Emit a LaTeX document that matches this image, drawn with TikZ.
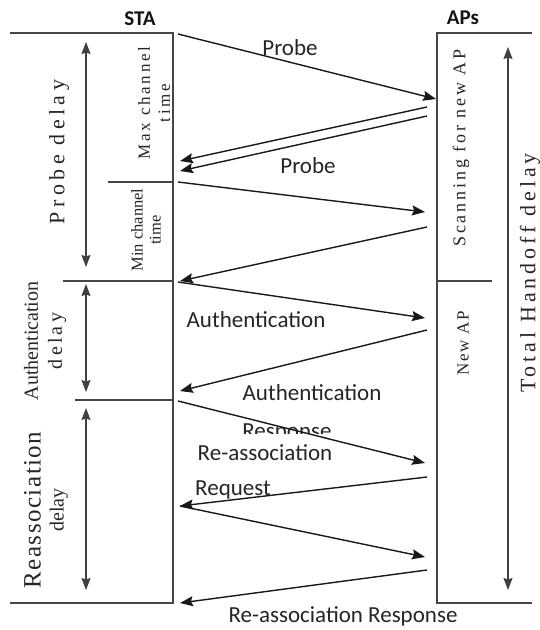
\documentclass[tikz,border=0pt]{standalone}
\usepackage{fontspec}
\setmainfont{Liberation Serif}
\newfontfamily\labfont{Carlito}
\newfontfamily\lsXL[LetterSpace=20]{Liberation Serif}
\newfontfamily\lsT[LetterSpace=18]{Liberation Serif}
\newfontfamily\lsL[LetterSpace=16]{Liberation Serif}
\newfontfamily\lsM[LetterSpace=10]{Liberation Serif}
\newfontfamily\lsS[LetterSpace=6]{Liberation Serif}
\usetikzlibrary{arrows.meta}
\begin{document}
\begin{tikzpicture}[x=1pt,y=-1pt,
  frameline/.style={draw=black!72, line width=1.3pt},
  msg/.style={draw=black!90, line width=1.4pt, -{Stealth[length=13pt,width=10pt,inset=2pt]}},
  delayspan/.style={draw=black!75, line width=1.3pt, {Stealth[length=12pt,width=9pt,inset=1.5pt]}-{Stealth[length=12pt,width=9pt,inset=1.5pt]}},
  lab/.style={font=\labfont\fontsize{23}{27}\selectfont, text=black!85, inner sep=0pt, anchor=base},
  headlbl/.style={font=\labfont\bfseries\fontsize{21}{25}\selectfont, text=black!92, inner sep=0pt},
  vtext/.style={rotate=90, align=center, inner sep=0pt, text=black!85},
]
\useasboundingbox (0,0) rectangle (539,630);
\fill[white] (0,0) rectangle (539,630);

% STA frame
\coordinate (staTL) at (10,33);
\coordinate (staTop) at (173,33);
\coordinate (staBot) at (173,603);
\coordinate (staBL) at (10,603);
\coordinate (minL) at (108,182);
\coordinate (minR) at (173,182);
\coordinate (authL) at (63,281);
\coordinate (authR) at (173,281);
\coordinate (reaL) at (75,400);
\coordinate (reaR) at (173,400);
\draw[frameline] (staTL) -- (staTop) -- (staBot) -- (staBL);
\draw[frameline] (minL) -- (minR);
\draw[frameline] (authL) -- (authR);
\draw[frameline] (reaL) -- (reaR);

% AP frame
\coordinate (apTR) at (532,33);
\coordinate (apTL) at (437,33);
\coordinate (apBL) at (437,603);
\coordinate (apBR) at (532,603);
\coordinate (apMid) at (437,281);
\coordinate (apMidR) at (492,281);
\draw[frameline] (apTR) -- (apTL) -- (apBL) -- (apBR);
\draw[frameline] (apMid) -- (apMidR);

% delay spans
\coordinate (pdTop) at (86,42);
\coordinate (pdBot) at (86,267);
\coordinate (adTop) at (86,284);
\coordinate (adBot) at (86,392);
\coordinate (rdTop) at (86,408);
\coordinate (rdBot) at (86,590);
\coordinate (thTop) at (508,47);
\coordinate (thBot) at (508,590);
\draw[delayspan] (pdTop) -- (pdBot);
\draw[delayspan] (adTop) -- (adBot);
\draw[delayspan] (rdTop) -- (rdBot);
\draw[delayspan] (thTop) -- (thBot);

% headers
\node[headlbl] (sta) at (140,18.5) {STA};
\node[headlbl] (aps) at (463,18) {APs};

% message labels
\node[lab] (probe1) at (290,55) {Probe};
\node[lab] (probe2) at (308,173) {Probe};
\node[lab] (auth1) at (256,327) {Authentication};
\node[lab] (auth2) at (312,400) {Authentication};
\begin{scope}
\clip (220,415) rectangle (350,433.5);
\node[lab] (resp) at (287,438) {Response};
\end{scope}
\node[lab] (reassoc) at (265,460) {Re-association};
\node[lab] (req) at (233,495) {Request};
\node[lab] (rresp) at (343,622) {Re-association Response};

% rotated texts
\node[vtext, font=\lsXL\fontsize{22}{24}\selectfont] (pd) at (59,152) {Probe delay};
\node[vtext, font=\lsL\fontsize{17}{20}\selectfont] (maxct) at (154,103) {Max channel\\time};
\node[vtext, font=\fontsize{16.5}{18}\selectfont] (minct) at (146,230) {Min channel\\time};
\node[vtext, font=\lsL\fontsize{18}{20}\selectfont] (scan) at (461,148) {Scanning for new AP};
\node[vtext, font=\lsM\fontsize{17}{20}\selectfont] (newap) at (463,343) {New AP};
\node[vtext, font=\lsT\fontsize{22}{24}\selectfont] (thd) at (530,273) {Total Handoff delay};
\node[vtext, font=\fontsize{20}{24}\selectfont] (ad) at (45,341) {Authentication\\{\lsL delay}};
\node[vtext, font=\fontsize{20}{23}\selectfont] (rd) at (46,510) {{\lsS\fontsize{25}{26}\selectfont Reassociation}\\delay};

% messages
\coordinate (s1) at (178,34);   \coordinate (a1) at (436,99);
\coordinate (a2) at (427,107);  \coordinate (s2) at (180,161);
\coordinate (a3) at (427,116);  \coordinate (s3) at (180,171);
\coordinate (s4) at (178,182);  \coordinate (a4) at (425,212);
\coordinate (a5) at (427,227);  \coordinate (s5) at (180,281);
\coordinate (s6) at (178,282);  \coordinate (a6) at (425,318);
\coordinate (a7) at (427,330);  \coordinate (s7) at (180,391);
\coordinate (s8) at (178,401);  \coordinate (a8) at (425,463);
\coordinate (a9) at (427,477);  \coordinate (s9) at (180,506);
\coordinate (a10) at (425,557);
\coordinate (a11) at (427,570); \coordinate (s11) at (180,603);
\draw[msg] (s1) -- (a1);
\draw[msg] (a2) -- (s2);
\draw[msg] (a3) -- (s3);
\draw[msg] (s4) -- (a4);
\draw[msg] (a5) -- (s5);
\draw[msg] (s6) -- (a6);
\draw[msg] (a7) -- (s7);
\draw[msg] (s8) -- (a8);
\draw[msg] (a9) -- (s9);
\draw[msg] (s9) -- (a10);
\draw[msg] (a11) -- (s11);
\end{tikzpicture}
\end{document}
